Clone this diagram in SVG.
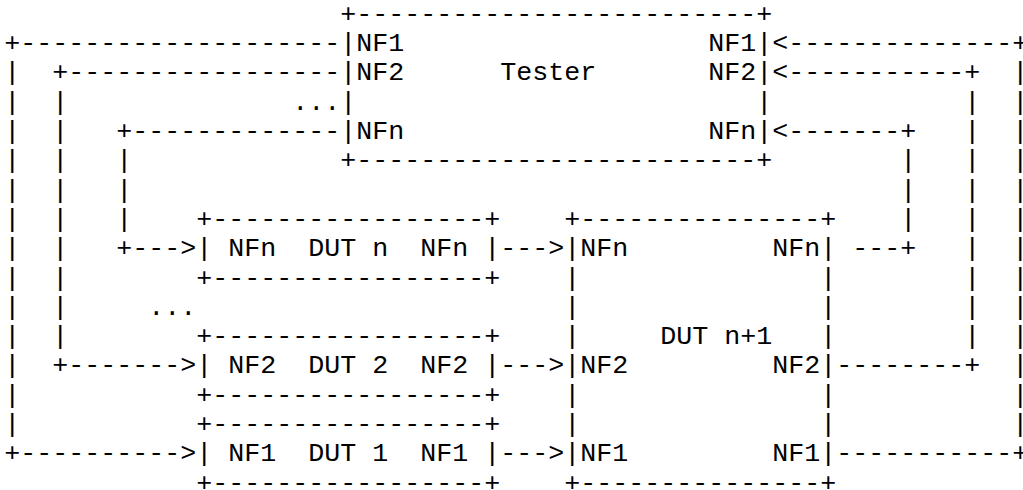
<svg xmlns="http://www.w3.org/2000/svg" width="1023" height="490" viewBox="0 0 1023 490">
<style>
text { font-family: "Liberation Mono", "Courier New", monospace; font-size: 26.67px; fill: #000; white-space: pre; }
</style>
<rect width="1023" height="490" fill="#fff"/>
<g id="tester">
<text x="340.3" y="21.7">+-------------------------+</text>
<text x="340.3" y="51.0">|NF1</text><text x="708.3" y="51.0">NF1|</text>
<text x="340.3" y="80.3">|NF2</text><text x="500.3" y="80.3">Tester</text><text x="708.3" y="80.3">NF2|</text>
<text x="340.3" y="109.6">|</text><text x="756.3" y="109.6">|</text>
<text x="340.3" y="138.9">|NFn</text><text x="708.3" y="138.9">NFn|</text>
<text x="340.3" y="168.2">+-------------------------+</text>
</g>
<g id="dut-n">
<text x="196.3" y="226.9">+-----------------+</text>
<text x="196.3" y="256.2">|</text><text x="228.3" y="256.2">NFn</text><text x="308.3" y="256.2">DUT</text><text x="372.3" y="256.2">n</text><text x="420.3" y="256.2">NFn</text><text x="484.3" y="256.2">|</text>
<text x="196.3" y="285.5">+-----------------+</text>
</g>
<g id="dut-2">
<text x="196.3" y="344.1">+-----------------+</text>
<text x="196.3" y="373.4">|</text><text x="228.3" y="373.4">NF2</text><text x="308.3" y="373.4">DUT</text><text x="372.3" y="373.4">2</text><text x="420.3" y="373.4">NF2</text><text x="484.3" y="373.4">|</text>
<text x="196.3" y="402.7">+-----------------+</text>
</g>
<g id="dut-1">
<text x="196.3" y="432.0">+-----------------+</text>
<text x="196.3" y="461.3">|</text><text x="228.3" y="461.3">NF1</text><text x="308.3" y="461.3">DUT</text><text x="372.3" y="461.3">1</text><text x="420.3" y="461.3">NF1</text><text x="484.3" y="461.3">|</text>
<text x="196.3" y="490.6">+-----------------+</text>
</g>
<g id="dut-n-plus-1">
<text x="564.3" y="226.9">+---------------+</text>
<text x="564.3" y="256.2">|NFn</text><text x="772.3" y="256.2">NFn|</text>
<text x="564.3" y="285.5">|</text><text x="820.3" y="285.5">|</text>
<text x="564.3" y="314.8">|</text><text x="820.3" y="314.8">|</text>
<text x="564.3" y="344.1">|</text><text x="660.3" y="344.1">DUT n+1</text><text x="820.3" y="344.1">|</text>
<text x="564.3" y="373.4">|NF2</text><text x="772.3" y="373.4">NF2|</text>
<text x="564.3" y="402.7">|</text><text x="820.3" y="402.7">|</text>
<text x="564.3" y="432.0">|</text><text x="820.3" y="432.0">|</text>
<text x="564.3" y="461.3">|NF1</text><text x="772.3" y="461.3">NF1|</text>
<text x="564.3" y="490.6">+---------------+</text>
</g>
<g id="connectors">
<text x="4.3" y="51.0">+--------------------</text><text x="772.3" y="51.0">&lt;--------------+</text>
<text x="4.3" y="80.3">|</text><text x="52.3" y="80.3">+-----------------</text><text x="772.3" y="80.3">&lt;-----------+</text><text x="1012.3" y="80.3">|</text>
<text x="4.3" y="109.6">|</text><text x="52.3" y="109.6">|</text><text x="292.3" y="109.6">...</text><text x="964.3" y="109.6">|</text><text x="1012.3" y="109.6">|</text>
<text x="4.3" y="138.9">|</text><text x="52.3" y="138.9">|</text><text x="116.3" y="138.9">+-------------</text><text x="772.3" y="138.9">&lt;-------+</text><text x="964.3" y="138.9">|</text><text x="1012.3" y="138.9">|</text>
<text x="4.3" y="168.2">|</text><text x="52.3" y="168.2">|</text><text x="116.3" y="168.2">|</text><text x="900.3" y="168.2">|</text><text x="964.3" y="168.2">|</text><text x="1012.3" y="168.2">|</text>
<text x="4.3" y="197.6">|</text><text x="52.3" y="197.6">|</text><text x="116.3" y="197.6">|</text><text x="900.3" y="197.6">|</text><text x="964.3" y="197.6">|</text><text x="1012.3" y="197.6">|</text>
<text x="4.3" y="226.9">|</text><text x="52.3" y="226.9">|</text><text x="116.3" y="226.9">|</text><text x="900.3" y="226.9">|</text><text x="964.3" y="226.9">|</text><text x="1012.3" y="226.9">|</text>
<text x="4.3" y="256.2">|</text><text x="52.3" y="256.2">|</text><text x="116.3" y="256.2">+---&gt;</text><text x="500.3" y="256.2">---&gt;</text><text x="852.3" y="256.2">---+</text><text x="964.3" y="256.2">|</text><text x="1012.3" y="256.2">|</text>
<text x="4.3" y="285.5">|</text><text x="52.3" y="285.5">|</text><text x="964.3" y="285.5">|</text><text x="1012.3" y="285.5">|</text>
<text x="4.3" y="314.8">|</text><text x="52.3" y="314.8">|</text><text x="148.3" y="314.8">...</text><text x="964.3" y="314.8">|</text><text x="1012.3" y="314.8">|</text>
<text x="4.3" y="344.1">|</text><text x="52.3" y="344.1">|</text><text x="964.3" y="344.1">|</text><text x="1012.3" y="344.1">|</text>
<text x="4.3" y="373.4">|</text><text x="52.3" y="373.4">+-------&gt;</text><text x="500.3" y="373.4">---&gt;</text><text x="836.3" y="373.4">--------+</text><text x="1012.3" y="373.4">|</text>
<text x="4.3" y="402.7">|</text><text x="1012.3" y="402.7">|</text>
<text x="4.3" y="432.0">|</text><text x="1012.3" y="432.0">|</text>
<text x="4.3" y="461.3">+----------&gt;</text><text x="500.3" y="461.3">---&gt;</text><text x="836.3" y="461.3">-----------+</text>
</g>
</svg>
